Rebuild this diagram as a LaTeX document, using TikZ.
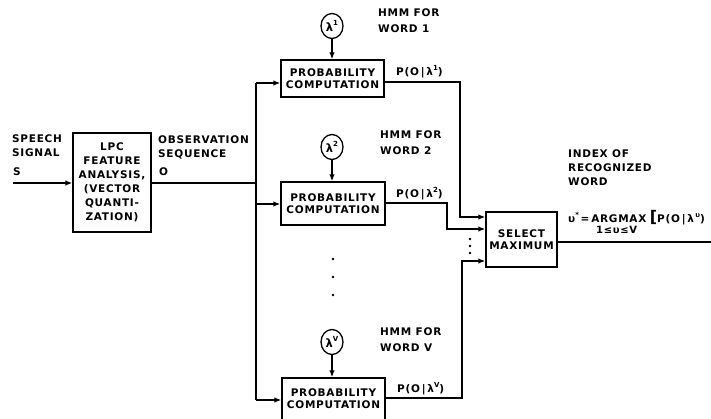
\documentclass[tikz,border=0pt]{standalone}
\usepackage{fontspec}
\usetikzlibrary{arrows.meta,shapes.geometric}
\newfontfamily\lblfont{DejaVu Sans}[LetterSpace=7]
\newcommand\supx[1]{\raisebox{0.5em}{\fontsize{7}{7}\selectfont #1}}
\tikzset{
  lbl/.style={inner sep=0pt, font=\lblfont\bfseries\fontsize{10.5}{14}\selectfont, align=left},
  blk/.style={draw, line width=1.3pt, inner sep=0pt, align=center, font=\lblfont\bfseries\fontsize{10.5}{14}\selectfont},
  mdl/.style={draw, line width=1.3pt, ellipse, inner sep=0pt, minimum width=22pt, minimum height=25pt, font=\lblfont\bfseries\fontsize{11.5}{11.5}\selectfont},
  wire/.style={line width=1.6pt},
  arr/.style={wire, -{Latex[length=7pt,width=5.5pt]}},
}
\begin{document}
\begin{tikzpicture}[x=1pt,y=-1pt]
\useasboundingbox (0,0) rectangle (711,419);
% blocks
\node[blk, minimum width=78pt, minimum height=99pt] (lpc) at (112,182.5) {LPC\\FEATURE\\ANALYSIS,\\(VECTOR\\QUANTI-\\ZATION)};
\node[blk, minimum width=103pt, minimum height=37pt] (p1) at (332.5,78.5) {PROBABILITY\\[-2pt]COMPUTATION};
\node[blk, minimum width=104pt, minimum height=43pt] (p2) at (333,203.5) {PROBABILITY\\[-2pt]COMPUTATION};
\node[blk, minimum width=103pt, minimum height=42pt] (pv) at (333.5,399) {PROBABILITY\\[-2pt]COMPUTATION};
\node[blk, minimum width=71pt, minimum height=55pt] (sel) at (521.5,239.5) {SELECT\\[-2pt]MAXIMUM};
% models
\node[mdl] (l1) at (332,26) {λ\supx{1}};
\node[mdl] (l2) at (332,147) {λ\supx{2}};
\node[mdl] (lv) at (332,342) {λ\supx{V}};
% labels
\node[lbl, anchor=north west] (sp) at (12,135) {SPEECH\\SIGNAL};
\node[lbl, anchor=north west] (s) at (13,168) {S};
\node[lbl, anchor=north west] (obs) at (158,136) {OBSERVATION\\SEQUENCE};
\node[lbl, anchor=north west] (o) at (159,168) {O};
\node[lbl, anchor=north west] (h1) at (378,9) {HMM FOR\\[2pt]WORD 1};
\node[lbl, anchor=north west] (h2) at (380,131) {HMM FOR\\[2pt]WORD 2};
\node[lbl, anchor=north west] (hv) at (380,328) {HMM FOR\\[2pt]WORD V};
\node[lbl, anchor=north west] (idx) at (568,150) {INDEX OF\\RECOGNIZED\\WORD};
\node[lbl, anchor=south west] (q1) at (396,78) {P(O\,|\,λ\supx{1})};
\node[lbl, anchor=south west] (q2) at (396,200) {P(O\,|\,λ\supx{2})};
\node[lbl, anchor=south west] (qv) at (397,395) {P(O\,|\,λ\supx{V})};
\node[lbl, anchor=west] (eq) at (568,218) {υ\supx{*}\,=\,ARGMAX\,\,{\fontsize{16}{16}\selectfont[}P(O\,|\,λ\supx{\,υ})};
\node[lbl, anchor=west, font=\lblfont\bfseries\fontsize{10}{10}\selectfont] (rng) at (596,230) {1≤υ≤V};
% dots
\foreach \y in {259,277,295} \fill (333,\y) circle (1.4pt);
\foreach \y in {239,246,253} \fill (470,\y) circle (1.4pt);
% coordinates
\coordinate (in) at (13,183);
\coordinate (bt) at (256,83);
\coordinate (bm) at (256,183);
\coordinate (b2) at (256,204);
\coordinate (bb) at (256,400);
\coordinate (o1) at (460,82);
\coordinate (o2) at (447,203);
\coordinate (ov) at (462,398);
\coordinate (s1) at (486,217);
\coordinate (s2) at (486,229);
\coordinate (sv) at (486,261);
\coordinate (out) at (711,242);
% wires
\draw[arr] (in) -- (in -| lpc.west);
\draw[wire] (lpc.east |- bm) -- (bm);
\draw[wire] (bt) -- (bb);
\draw[arr] (bt) -- (bt -| p1.west);
\draw[arr] (b2) -- (b2 -| p2.west);
\draw[arr] (bb) -- (bb -| pv.west);
\draw[arr] (l1) -- (l1 |- p1.north);
\draw[arr] (l2) -- (l2 |- p2.north);
\draw[arr] (lv) -- (lv |- pv.north);
\draw[arr] (o1 -| p1.east) -- (o1) |- (s1 -| sel.west);
\draw[arr] (o2 -| p2.east) -- (o2) |- (s2 -| sel.west);
\draw[arr] (ov -| pv.east) -- (ov) |- (sv -| sel.west);
\draw[wire] (sel.east |- out) -- (out);
\end{tikzpicture}
\end{document}
